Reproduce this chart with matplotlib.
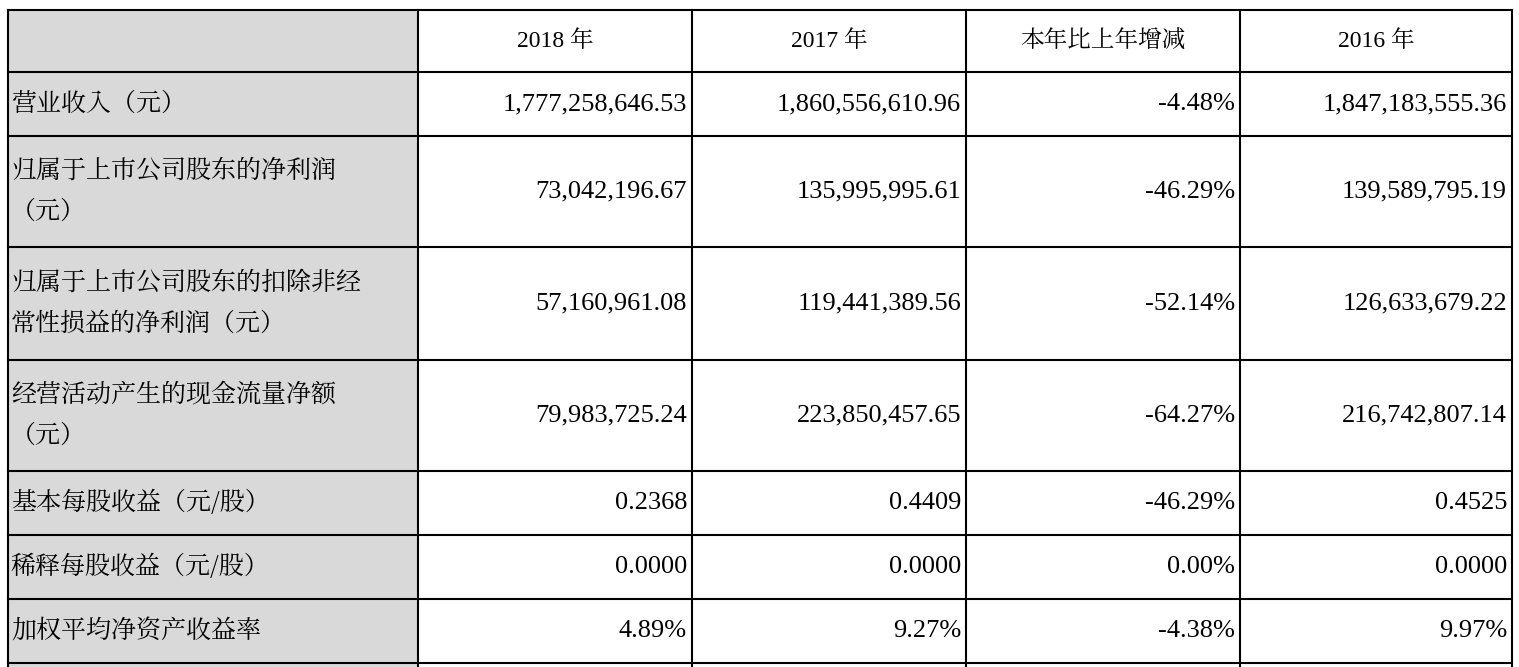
import matplotlib
matplotlib.use("Agg")
import matplotlib.pyplot as plt
from matplotlib import font_manager as fm

headers = ["", "2018 年", "2017 年", "本年比上年增减", "2016 年"]
row_labels = ["营业收入（元）", "归属于上市公司股东的净利润\n（元）",
              "归属于上市公司股东的扣除非经\n常性损益的净利润（元）",
              "经营活动产生的现金流量净额\n（元）", "基本每股收益（元/股）",
              "稀释每股收益（元/股）", "加权平均净资产收益率"]
v2018 = ["1,777,258,646.53", "73,042,196.67", "57,160,961.08", "79,983,725.24", "0.2368", "0.0000", "4.89%"]
v2017 = ["1,860,556,610.96", "135,995,995.61", "119,441,389.56", "223,850,457.65", "0.4409", "0.0000", "9.27%"]
vchg = ["-4.48%", "-46.29%", "-52.14%", "-64.27%", "-46.29%", "0.00%", "-4.38%"]
v2016 = ["1,847,183,555.36", "139,589,795.19", "126,633,679.22", "216,742,807.14", "0.4525", "0.0000", "9.97%"]

# locate a CJK font file robustly
cjk_path = None
for f in fm.findSystemFonts():
    if "CJK" in f or "cjk" in f.lower():
        cjk_path = f
        if "SC" in f or "Regular" in f:
            break
if cjk_path:
    fm.fontManager.addfont(cjk_path)
    cjk_name = fm.FontProperties(fname=cjk_path).get_name()
else:
    cjk_name = "Noto Sans CJK SC"
serif = "Liberation Serif"

W, H = 1519, 667
fig = plt.figure(figsize=(W/100, H/100), dpi=100)
ax = fig.add_axes([0, 0, 1, 1])
ax.set_xlim(0, W); ax.set_ylim(H, 0); ax.axis("off")

xs = [8, 418, 692, 966, 1240, 1512]
ys = [10, 72, 136, 247, 360, 471, 535, 599, 663, 700]
gray = "#d9d9d9"

ax.add_patch(plt.Rectangle((xs[0], ys[0]), xs[1]-xs[0], ys[-1]-ys[0], color=gray, lw=0))
for x in xs:
    ax.plot([x, x], [ys[0], H], color="black", lw=1.5)
for y in ys[:-1]:
    ax.plot([xs[0], xs[-1]], [y, y], color="black", lw=1.5)

for j, h in enumerate(headers[1:], start=1):
    ax.text((xs[j]+xs[j+1])/2, (ys[0]+ys[1])/2, h, ha="center", va="center",
            fontsize=17, fontfamily=[serif, cjk_name])

cols = [v2018, v2017, vchg, v2016]
for i, lab in enumerate(row_labels):
    yc = (ys[i+1]+ys[i+2])/2
    ax.text(xs[0]+3, yc, lab, ha="left", va="center", fontsize=18,
            fontfamily=cjk_name, linespacing=1.75)
    for j, col in enumerate(cols):
        ax.text(xs[j+2]-5, yc, col[i], ha="right", va="center",
                fontsize=19, fontfamily=serif)

fig.savefig("out.png", dpi=100, facecolor="white")
